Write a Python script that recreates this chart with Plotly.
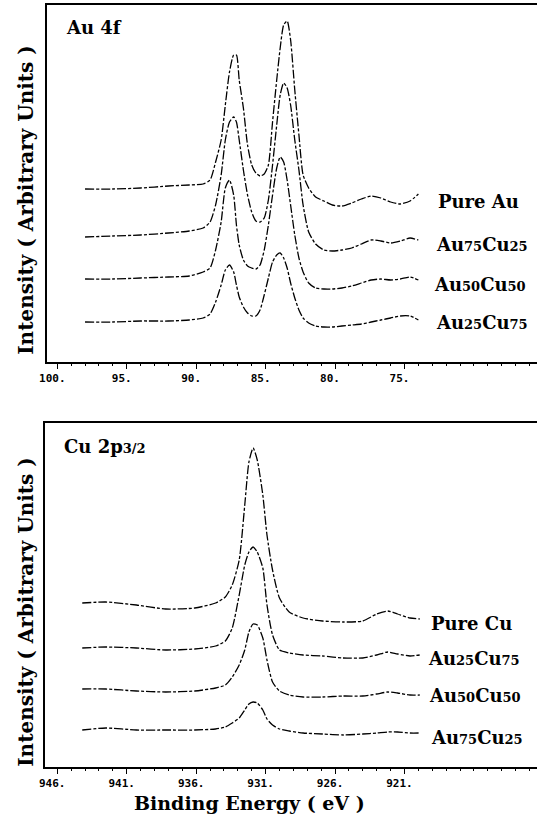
import plotly.graph_objects as go

W, H = 537, 826

# ---------------- Au 4f panel data ----------------
au_energy = [98.0, 96.0, 94.0, 92.0, 90.5, 89.5, 89.0, 88.6, 88.2, 87.9, 87.6, 87.3, 87.1, 86.9,
             86.6, 86.3, 86.0, 85.7, 85.4, 85.1, 84.8, 84.5, 84.2, 83.95, 83.7, 83.45, 83.2, 82.9,
             82.6, 82.3, 81.9, 81.4, 80.8, 80.2, 79.5, 78.8, 78.1, 77.4, 76.7, 76.0, 75.3, 74.6, 74.0]
au_pure = [181, 181, 182, 184, 185, 186, 190, 208, 230, 265, 298, 315, 315, 290,
           262, 225, 205, 197, 194, 196, 205, 248, 290, 322, 345, 349, 330, 280,
           235, 195, 182, 173, 169, 165, 164, 167, 171, 174, 172, 168, 166, 169, 176]
au_au75cu25 = [133, 134, 135, 137, 139, 142, 148, 165, 195, 230, 248, 253, 248, 230,
               200, 175, 158, 149, 148, 152, 170, 205, 245, 275, 287, 282, 265, 230,
               200, 165, 138, 126, 120, 119, 120, 122, 126, 130, 129, 127, 129, 132, 130]
au_au50cu50 = [91, 91, 92, 93, 94, 98, 102, 120, 148, 182, 190, 175, 145, 125,
               110, 104, 102, 101, 105, 120, 145, 175, 202, 213, 208, 190, 165, 135,
               112, 98, 87, 82, 81, 81, 82, 84, 87, 90, 91, 90, 91, 93, 90]
au_au25cu75 = [48, 48, 49, 49, 50, 52, 56, 68, 85, 100, 105, 98, 85, 73,
               63, 57, 54, 54, 60, 75, 92, 108, 115, 117, 112, 102, 87, 72,
               60, 52, 47, 44, 43, 43, 44, 45, 46, 48, 50, 52, 54, 54, 50]
au_series = [au_pure, au_au75cu25, au_au50cu50, au_au25cu75]
au_labels = ["Pure Au",
             "Au<span style='font-size:13px'>75</span>Cu<span style='font-size:13px'>25</span>",
             "Au<span style='font-size:13px'>50</span>Cu<span style='font-size:13px'>50</span>",
             "Au<span style='font-size:13px'>25</span>Cu<span style='font-size:13px'>75</span>"]
au_label_e = [72.7, 72.85, 73.05, 72.9]
au_label_i = [168, 125, 85, 47]
au_tickvals = [100, 95, 90, 85, 80, 75]
au_ticktext = ["100.", "95.", "90.", "85.", "80.", "75."]

# ---------------- Cu 2p3/2 panel data ----------------
cu_energy = [944.2, 942.5, 940.3, 938.2, 936.1, 934.6, 933.9, 933.4, 932.9, 932.5, 932.2, 931.9,
             931.6, 931.2, 930.9, 930.5, 930.0, 929.3, 928.3, 926.9, 925.4, 924.0, 923.0, 922.2,
             921.5, 920.6, 919.9]
cu_pure = [167, 168, 165, 161, 162, 167, 173, 185, 210, 265, 308, 322,
           310, 275, 235, 200, 172, 158, 152, 149, 148, 149, 156, 159, 156, 152, 151]
cu_au25cu75 = [122, 123, 122, 120, 121, 124, 129, 142, 175, 205, 218, 223,
               218, 202, 165, 135, 120, 117, 115, 114, 112, 112, 115, 118, 116, 114, 115]
cu_au50cu50 = [81, 81, 79, 78, 79, 82, 85, 93, 105, 120, 138, 146,
               145, 132, 110, 88, 79, 75, 73, 73, 74, 74, 76, 78, 77, 75, 75]
cu_au75cu25 = [40, 42, 40, 40, 40, 41, 43, 47, 52, 60, 66, 68,
               67, 60, 51, 45, 41, 39, 37, 36, 35, 36, 37, 38, 38, 37, 37]
cu_series = [cu_pure, cu_au25cu75, cu_au50cu50, cu_au75cu25]
cu_labels = ["Pure Cu",
             "Au<span style='font-size:13px'>25</span>Cu<span style='font-size:13px'>75</span>",
             "Au<span style='font-size:13px'>50</span>Cu<span style='font-size:13px'>50</span>",
             "Au<span style='font-size:13px'>75</span>Cu<span style='font-size:13px'>25</span>"]
cu_label_e = [919.2, 919.48, 919.4, 919.26]
cu_label_i = [147, 112, 75, 33]
cu_tickvals = [946, 941, 936, 931, 926, 921]
cu_ticktext = ["946.", "941.", "936.", "931.", "926.", "921."]

SERIF = "DejaVu Serif"
TICKFONT = dict(family="DejaVu Sans Mono", size=11, color="black", weight="bold")

fig = go.Figure()

line_style = dict(color="black", width=1.3, dash="9px,2px,3px,2px", shape="spline", smoothing=0.6)

for s in au_series:
    fig.add_trace(go.Scatter(x=au_energy, y=s, mode="lines", line=line_style,
                             xaxis="x", yaxis="y", showlegend=False, hoverinfo="skip"))
for s in cu_series:
    fig.add_trace(go.Scatter(x=cu_energy, y=s, mode="lines", line=line_style,
                             xaxis="x2", yaxis="y2", showlegend=False, hoverinfo="skip"))

def px_x(p):
    return p / W

def px_y(p):
    return 1 - p / H

common_x = dict(showgrid=False, zeroline=False, showline=True, linecolor="black", linewidth=2,
                mirror=True, ticks="outside", ticklen=5, tickwidth=1, tickcolor="black",
                tickfont=TICKFONT, ticklabelshift=5, ticklabelstandoff=0,
                minor=dict(ticks="outside", ticklen=2, tickwidth=1, tickcolor="black", dtick=1))
common_y = dict(showgrid=False, zeroline=False, showline=True, linecolor="black", linewidth=2,
                showticklabels=False, ticks="")

fig.update_layout(
    width=W, height=H, margin=dict(l=0, r=0, t=0, b=0),
    paper_bgcolor="white", plot_bgcolor="white",
    xaxis=dict(common_x, domain=[px_x(40), 1], range=[100.71, 65.46], anchor="y",
               tickvals=au_tickvals, ticktext=au_ticktext),
    yaxis=dict(common_y, domain=[px_y(362), px_y(5)], range=[8, 365], anchor="x"),
    xaxis2=dict(common_x, domain=[px_x(38), 1], range=[946.85, 911.46], anchor="y2",
                tickvals=cu_tickvals, ticktext=cu_ticktext),
    yaxis2=dict(common_y, domain=[px_y(767), px_y(423)], range=[3, 347], anchor="x2"),
)

BFONT = lambda sz: dict(family=SERIF, size=sz, color="black", weight="bold")

ann = []
for lab, e, i in zip(au_labels, au_label_e, au_label_i):
    ann.append(dict(x=e, y=i, xref="x", yref="y", text=lab, showarrow=False, xanchor="left",
                    yanchor="middle", font=BFONT(18)))
for lab, e, i in zip(cu_labels, cu_label_e, cu_label_i):
    ann.append(dict(x=e, y=i, xref="x2", yref="y2", text=lab, showarrow=False, xanchor="left",
                    yanchor="middle", font=BFONT(18)))

ann.append(dict(x=px_x(57), y=px_y(27), xref="paper", yref="paper", text="Au 4f",
                showarrow=False, xanchor="left", yanchor="middle", font=BFONT(18)))
ann.append(dict(x=px_x(55), y=px_y(446), xref="paper", yref="paper",
                text="Cu 2p<span style='font-size:13px'>3/2</span>",
                showarrow=False, xanchor="left", yanchor="middle", font=BFONT(18)))
for yc in (200, 612):
    ann.append(dict(x=px_x(18), y=px_y(yc), xref="paper", yref="paper",
                    text="Intensity ( Arbitrary Units )", textangle=-90, showarrow=False,
                    xanchor="center", yanchor="middle", font=BFONT(20)))
ann.append(dict(x=px_x(245), y=px_y(803), xref="paper", yref="paper",
                text="Binding Energy ( eV )", showarrow=False, xanchor="center", yanchor="middle",
                font=BFONT(19)))

fig.update_layout(annotations=ann)

fig.write_html("out.html")
